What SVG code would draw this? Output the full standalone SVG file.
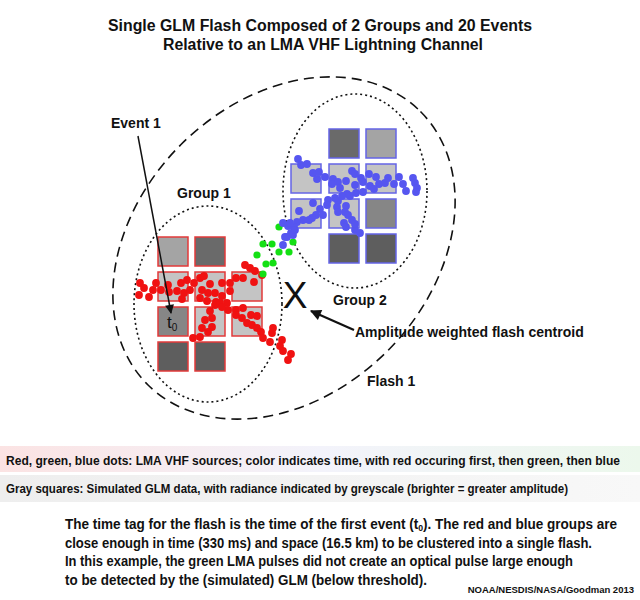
<svg xmlns="http://www.w3.org/2000/svg" width="640" height="600" viewBox="0 0 640 600">
<style>
text{font-family:"Liberation Sans",Arial,sans-serif;fill:#111}
.b{font-weight:bold}
.lbl{font-size:14px;font-weight:bold}
.flash{fill:none;stroke:#111;stroke-width:1.6;stroke-dasharray:10 6}
.grp{fill:none;stroke:#111;stroke-width:1.6;stroke-dasharray:2 3}
.sq1{stroke:#e23a3a;stroke-width:1.5}
.sq2{stroke:#6464e6;stroke-width:1.5}
.l{fill:#c4c4c4}.m1{fill:#a4a4a4}.m{fill:#868686}.d{fill:#6a6a6a}.dd{fill:#5e5e5e}
.r circle{fill:#f01212}
.g circle{fill:#14e014}
.bl circle{fill:#5656f0}
.conn{stroke:#111;fill:none}
</style>
<defs>
<marker id="ah" viewBox="0 0 10 10" refX="9" refY="5" markerWidth="10" markerHeight="9" markerUnits="userSpaceOnUse" orient="auto"><path d="M0,0 L10,5 L0,10 z" fill="#111"/></marker>
<marker id="ah2" viewBox="0 0 10 10" refX="9" refY="5" markerWidth="14" markerHeight="11" markerUnits="userSpaceOnUse" orient="auto"><path d="M0,0 L10,5 L0,10 z" fill="#111"/></marker>
<linearGradient id="band1" x1="0" x2="1" y1="0" y2="0"><stop offset="0" stop-color="#fbe3e3"/><stop offset="0.5" stop-color="#f3f3fb"/><stop offset="1" stop-color="#ecf8ec"/></linearGradient>
<linearGradient id="band2" x1="0" x2="1" y1="0" y2="0"><stop offset="0" stop-color="#eeeeee"/><stop offset="1" stop-color="#f8f8f8"/></linearGradient>
</defs>
<rect width="640" height="600" fill="#fff"/>

<g id="title">
<text class="b" x="320" y="31" font-size="16" text-anchor="middle" textLength="424" lengthAdjust="spacingAndGlyphs">Single GLM Flash Composed of 2 Groups and 20 Events</text>
<text class="b" x="323" y="50" font-size="16" text-anchor="middle" textLength="320" lengthAdjust="spacingAndGlyphs">Relative to an LMA VHF Lightning Channel</text>
</g>

<g id="flash1">
<ellipse class="flash" cx="284" cy="248" rx="193" ry="146" transform="rotate(-45 284 248)"/>
<text class="lbl" x="367" y="386">Flash 1</text>
</g>

<g id="group1">
<ellipse class="grp" cx="208" cy="304" rx="74" ry="98"/>
<g class="sq1">
<rect class="m1" x="158" y="237" width="30" height="29"/>
<rect class="d" x="195" y="237" width="30" height="29"/>
<rect class="l" x="158" y="272" width="30" height="29"/>
<rect class="l" x="195" y="272" width="30" height="29"/>
<rect class="l" x="232" y="272" width="30" height="29"/>
<rect class="m" x="158" y="307" width="30" height="29"/>
<rect class="l" x="195" y="307" width="30" height="29"/>
<rect class="l" x="232" y="307" width="30" height="29"/>
<rect class="dd" x="158" y="342" width="30" height="29"/>
<rect class="dd" x="195" y="342" width="30" height="29"/>
</g>
<text class="lbl" x="177" y="198">Group 1</text>
</g>

<g id="group2">
<ellipse class="grp" cx="355" cy="191" rx="72" ry="97"/>
<g class="sq2">
<rect class="d" x="329" y="129" width="30" height="29"/>
<rect class="m1" x="366" y="129" width="30" height="29"/>
<rect class="l" x="291" y="164" width="30" height="29"/>
<rect class="l" x="329" y="164" width="30" height="29"/>
<rect class="l" x="366" y="164" width="30" height="29"/>
<rect class="l" x="291" y="199" width="30" height="29"/>
<rect class="l" x="329" y="199" width="30" height="29"/>
<rect class="m" x="366" y="199" width="30" height="29"/>
<rect class="dd" x="329" y="234" width="30" height="29"/>
<rect class="dd" x="366" y="234" width="30" height="29"/>
</g>
<text class="lbl" x="333" y="305">Group 2</text>
</g>

<g id="lma-sources">
<g class="r">
<circle cx="140" cy="283" r="3.9"/><circle cx="144" cy="288" r="3.9"/><circle cx="139" cy="295" r="3.9"/><circle cx="149" cy="297" r="3.9"/>
<circle cx="153" cy="290" r="3.9"/><circle cx="156" cy="283" r="3.9"/><circle cx="161" cy="290" r="3.9"/><circle cx="168" cy="285" r="3.9"/>
<circle cx="169" cy="292" r="3.9"/><circle cx="177" cy="291" r="3.9"/><circle cx="181" cy="283" r="3.9"/><circle cx="187" cy="280" r="3.9"/>
<circle cx="184" cy="293" r="3.9"/><circle cx="182" cy="299" r="3.9"/><circle cx="194" cy="283" r="3.9"/><circle cx="200" cy="278" r="3.9"/>
<circle cx="204" cy="276" r="3.9"/><circle cx="202" cy="290" r="3.9"/><circle cx="210" cy="284" r="3.9"/><circle cx="208" cy="293" r="3.9"/>
<circle cx="200" cy="298" r="3.9"/><circle cx="207" cy="301" r="3.9"/><circle cx="215" cy="293" r="3.9"/><circle cx="222" cy="283" r="3.9"/>
<circle cx="230" cy="283" r="3.9"/><circle cx="236" cy="278" r="3.9"/><circle cx="243" cy="278" r="3.9"/><circle cx="245" cy="265" r="3.9"/>
<circle cx="250" cy="268" r="3.9"/><circle cx="255" cy="271" r="3.9"/><circle cx="230" cy="291" r="3.9"/><circle cx="222" cy="296" r="3.9"/>
<circle cx="216" cy="302" r="3.9"/><circle cx="215" cy="305" r="3.9"/><circle cx="220" cy="303" r="3.9"/><circle cx="227" cy="303" r="3.9"/>
<circle cx="228" cy="310" r="3.9"/><circle cx="222" cy="307" r="3.9"/><circle cx="210" cy="311" r="3.9"/><circle cx="212" cy="318" r="3.9"/>
<circle cx="205" cy="320" r="3.9"/><circle cx="212" cy="327" r="3.9"/><circle cx="202" cy="328" r="3.9"/><circle cx="208" cy="332" r="3.9"/>
<circle cx="200" cy="337" r="3.9"/><circle cx="193" cy="338" r="3.9"/><circle cx="236" cy="310" r="3.9"/><circle cx="243" cy="308" r="3.9"/>
<circle cx="236" cy="315" r="3.9"/><circle cx="242" cy="318" r="3.9"/><circle cx="251" cy="315" r="3.9"/><circle cx="257" cy="316" r="3.9"/>
<circle cx="247" cy="323" r="3.9"/><circle cx="252" cy="325" r="3.9"/><circle cx="257" cy="328" r="3.9"/><circle cx="261" cy="332" r="3.9"/>
<circle cx="263" cy="338" r="3.9"/><circle cx="272" cy="333" r="3.9"/><circle cx="273" cy="328" r="3.9"/><circle cx="270" cy="342" r="3.9"/>
<circle cx="282" cy="340" r="3.9"/><circle cx="280" cy="346" r="3.9"/><circle cx="283" cy="351" r="3.9"/><circle cx="291" cy="354" r="3.9"/>
<circle cx="288" cy="360" r="3.9"/><circle cx="262" cy="275" r="3.9"/><circle cx="254" cy="282" r="3.9"/><circle cx="190" cy="290" r="3.9"/>
</g>
<g class="g">
<circle cx="279" cy="227" r="3.6"/><circle cx="263" cy="244" r="3.6"/><circle cx="272" cy="244" r="3.6"/><circle cx="257" cy="255" r="3.6"/>
<circle cx="279" cy="252" r="3.6"/><circle cx="289" cy="252" r="3.6"/><circle cx="266" cy="264" r="3.6"/><circle cx="273" cy="263" r="3.6"/>
<circle cx="263" cy="274" r="3.6"/><circle cx="293" cy="242" r="3.6"/>
</g>
<g class="bl">
<circle cx="298" cy="159" r="3.9"/><circle cx="301" cy="165" r="3.9"/><circle cx="307" cy="164" r="3.9"/><circle cx="313" cy="173" r="3.9"/>
<circle cx="319" cy="172" r="3.9"/><circle cx="317" cy="179" r="3.9"/><circle cx="325" cy="177" r="3.9"/><circle cx="333" cy="179" r="3.9"/>
<circle cx="332" cy="184" r="3.9"/><circle cx="338" cy="182" r="3.9"/><circle cx="340" cy="188" r="3.9"/><circle cx="346" cy="181" r="3.9"/>
<circle cx="352" cy="171" r="3.9"/><circle cx="355" cy="174" r="3.9"/><circle cx="355" cy="185" r="3.9"/><circle cx="361" cy="178" r="3.9"/>
<circle cx="363" cy="182" r="3.9"/><circle cx="369" cy="174" r="3.9"/><circle cx="370" cy="186" r="3.9"/><circle cx="376" cy="177" r="3.9"/>
<circle cx="379" cy="184" r="3.9"/><circle cx="385" cy="183" r="3.9"/><circle cx="388" cy="178" r="3.9"/><circle cx="394" cy="184" r="3.9"/>
<circle cx="399" cy="177" r="3.9"/><circle cx="403" cy="184" r="3.9"/><circle cx="406" cy="191" r="3.9"/><circle cx="413" cy="178" r="3.9"/>
<circle cx="415" cy="183" r="3.9"/><circle cx="417" cy="188" r="3.9"/><circle cx="416" cy="192" r="3.9"/><circle cx="374" cy="189" r="3.9"/>
<circle cx="363" cy="192" r="3.9"/><circle cx="356" cy="193" r="3.9"/><circle cx="350" cy="196" r="3.9"/><circle cx="347" cy="194" r="3.9"/>
<circle cx="342" cy="196" r="3.9"/><circle cx="338" cy="201" r="3.9"/><circle cx="335" cy="198" r="3.9"/><circle cx="328" cy="200" r="3.9"/>
<circle cx="327" cy="205" r="3.9"/><circle cx="337" cy="207" r="3.9"/><circle cx="338" cy="212" r="3.9"/><circle cx="346" cy="206" r="3.9"/>
<circle cx="345" cy="212" r="3.9"/><circle cx="348" cy="215" r="3.9"/><circle cx="352" cy="220" r="3.9"/><circle cx="344" cy="223" r="3.9"/>
<circle cx="346" cy="227" r="3.9"/><circle cx="355" cy="230" r="3.9"/><circle cx="360" cy="233" r="3.9"/><circle cx="355" cy="224" r="3.9"/>
<circle cx="313" cy="203" r="3.9"/><circle cx="320" cy="209" r="3.9"/><circle cx="323" cy="215" r="3.9"/><circle cx="316" cy="215" r="3.9"/>
<circle cx="312" cy="218" r="3.9"/><circle cx="309" cy="220" r="3.9"/><circle cx="303" cy="220" r="3.9"/><circle cx="299" cy="211" r="3.9"/>
<circle cx="297" cy="222" r="3.9"/><circle cx="294" cy="227" r="3.9"/><circle cx="288" cy="226" r="3.9"/><circle cx="283" cy="223" r="3.9"/>
<circle cx="291" cy="233" r="3.9"/><circle cx="285" cy="237" r="3.9"/><circle cx="293" cy="235" r="3.9"/><circle cx="283" cy="245" r="3.9"/>
<circle cx="295" cy="230" r="3.9"/><circle cx="290" cy="223" r="3.9"/><circle cx="287" cy="237" r="3.9"/>
</g>
</g>

<g id="event1">
<text class="lbl" x="111" y="128">Event 1</text>
<text x="167" y="328" font-size="17" fill="#222">t<tspan font-size="10" dy="3">0</tspan></text>
</g>

<g id="centroid">
<text x="295" y="308" font-size="37" text-anchor="middle">X</text>
<text class="lbl" x="355" y="337">Amplitude weighted flash centroid</text>
</g>

<g id="connectors">
<line class="conn" x1="138" y1="136" x2="171" y2="313" stroke-width="1.5" marker-end="url(#ah)"/>
<line class="conn" x1="354" y1="330" x2="311" y2="311" stroke-width="2.2" marker-end="url(#ah2)"/>
</g>

<g id="legend">
<rect x="0" y="446" width="640" height="26" fill="url(#band1)"/>
<rect x="0" y="475" width="640" height="27" fill="url(#band2)"/>
<text class="b" x="6" y="464.5" font-size="12" textLength="614" lengthAdjust="spacingAndGlyphs">Red, green, blue dots: LMA VHF sources; color indicates time, with red occuring first, then green, then blue</text>
<text class="b" x="6" y="492.5" font-size="12" textLength="562" lengthAdjust="spacingAndGlyphs">Gray squares: Simulated GLM data, with radiance indicated by greyscale (brighter = greater amplitude)</text>
</g>

<g id="caption" class="b" font-size="14">
<text x="65" y="529" textLength="552" lengthAdjust="spacingAndGlyphs">The time tag for the flash is the time of the first event (t<tspan font-size="9" baseline-shift="-2">0</tspan>). The red and blue groups are</text>
<text x="65" y="548" textLength="527" lengthAdjust="spacingAndGlyphs">close enough in time (330 ms) and space (16.5 km) to be clustered into a single flash.</text>
<text x="65" y="566" textLength="508" lengthAdjust="spacingAndGlyphs">In this example, the green LMA pulses did not create an optical pulse large enough</text>
<text x="65" y="585" textLength="362" lengthAdjust="spacingAndGlyphs">to be detected by the (simulated) GLM (below threshold).</text>
</g>

<g id="credit">
<text class="b" x="634" y="593" font-size="9.5" text-anchor="end">NOAA/NESDIS/NASA/Goodman 2013</text>
</g>
</svg>
